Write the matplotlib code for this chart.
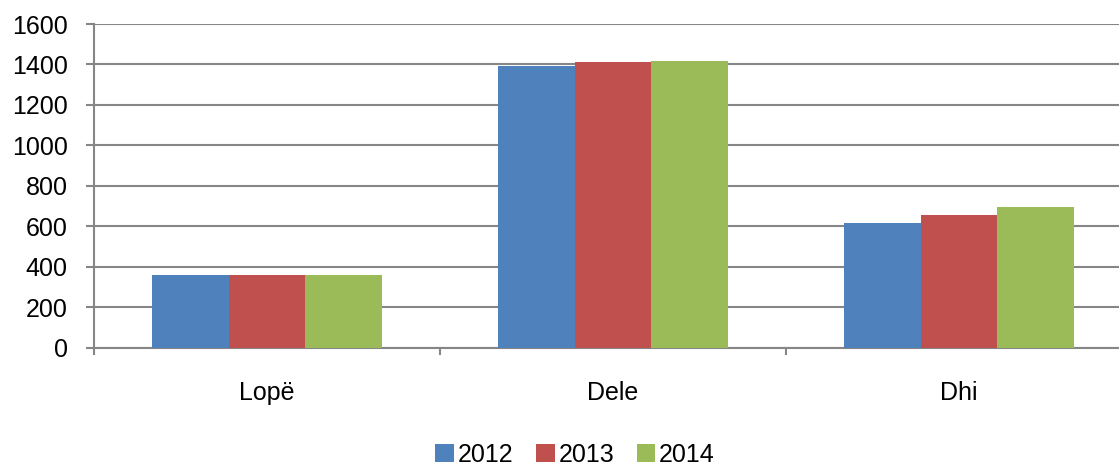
import matplotlib
matplotlib.use("Agg")
import matplotlib.pyplot as plt
import numpy as np

categories = ["Lopë", "Dele", "Dhi"]
years = ["2012", "2013", "2014"]
v2012 = [360, 1390, 614]
v2013 = [359, 1412, 656]
v2014 = [360, 1418, 694]
series = [v2012, v2013, v2014]
colors = ["#4F81BD", "#C0504D", "#9BBB59"]
yticks = [0, 200, 400, 600, 800, 1000, 1200, 1400, 1600]

plt.rcParams['font.family'] = ['Liberation Sans', 'DejaVu Sans']

W, H = 1119, 466
fig = plt.figure(figsize=(W/100, H/100), dpi=100)
left, right, top, bottom = 94, 1132, 24, 347.5
ax = fig.add_axes([left/W, 1-bottom/H, (right-left)/W, (bottom-top)/H])

x = np.arange(len(categories))
bw = 0.6667/3
for i, (vals, c, lab) in enumerate(zip(series, colors, years)):
    ax.bar(x + (i-1)*bw, vals, width=bw, color=c, label=lab, zorder=3)

ax.set_xlim(-0.5, len(categories)-0.5)
ax.set_ylim(0, 1600)
ax.set_yticks(yticks)
ax.set_yticklabels([str(t) for t in yticks], fontsize=18)
ax.yaxis.grid(True, color="#868686", linewidth=1.5, zorder=0)
ax.tick_params(axis='y', length=6, width=1.5, color="#868686", pad=13)

ax.set_xticks(x)
ax.set_xticklabels(categories, fontsize=18)
ax.tick_params(axis='x', which='major', length=0, pad=24)
ax.set_xticks(np.arange(len(categories)+1) - 0.5, minor=True)
ax.tick_params(axis='x', which='minor', length=5, width=1.5, color="#868686")

for s in ['top', 'right']:
    ax.spines[s].set_visible(False)
for s in ['left', 'bottom']:
    ax.spines[s].set_color("#868686")
    ax.spines[s].set_linewidth(1.5)

fig.legend(loc='center', bbox_to_anchor=(575/W, 1-455/H), ncol=3, frameon=False,
           fontsize=18, handlelength=0.75, handleheight=0.75, handletextpad=0.15,
           columnspacing=0.9, borderaxespad=0)

fig.savefig("out.png", dpi=100)
